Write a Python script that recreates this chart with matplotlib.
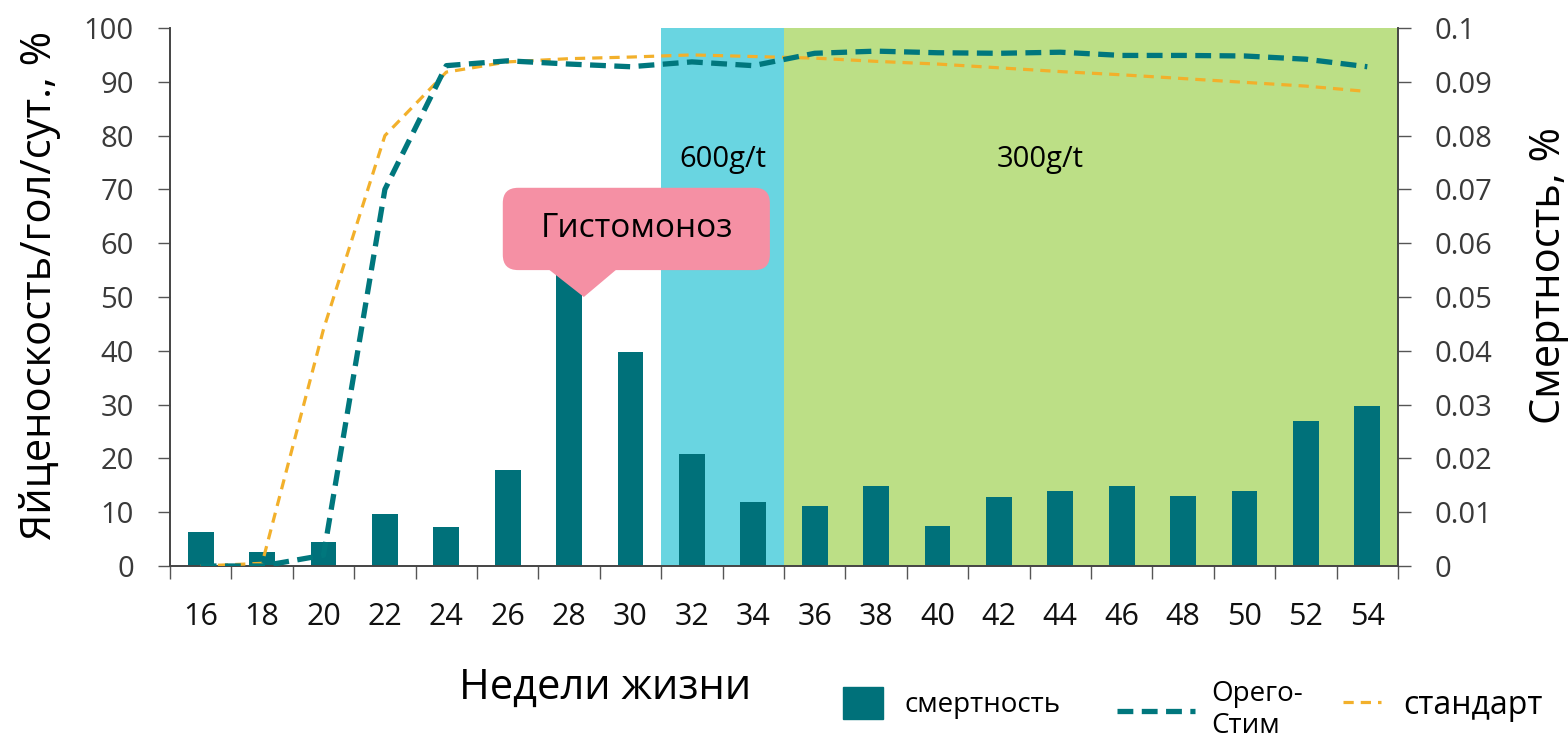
import numpy as np
import matplotlib
matplotlib.use("Agg")
import matplotlib.pyplot as plt
from matplotlib.patches import FancyBboxPatch, Polygon, Patch
from matplotlib.lines import Line2D

plt.rcParams["font.family"] = ["Open Sans", "DejaVu Sans"]

# --- data ---
weeks = [16, 18, 20, 22, 24, 26, 28, 30, 32, 34, 36, 38, 40, 42, 44, 46, 48, 50, 52, 54]
mortality = [0.0063, 0.0026, 0.0044, 0.0097, 0.0072, 0.0179, 0.055, 0.0397, 0.0209, 0.0119,
             0.0111, 0.0148, 0.0075, 0.0128, 0.0139, 0.0148, 0.0131, 0.0139, 0.0270, 0.0298]
orego = [0, 0, 2, 70, 93, 93.9, 93.3, 92.8, 93.7, 93.0,
         95.3, 95.7, 95.4, 95.3, 95.5, 94.9, 94.9, 94.8, 94.2, 92.8]
standard = [0, 0.5, 44, 80, 91.8, 93.7, 94.3, 94.6, 95.0, 94.7,
            94.4, 93.8, 93.3, 92.6, 91.9, 91.3, 90.6, 89.9, 89.2, 88.2]
dose_600 = (32, 34)     # weeks with 600 g/t
dose_300 = (36, 54)     # weeks with 300 g/t

TEAL = "#00717A"
LINE_TEAL = "#00777D"
YELLOW = "#F2B02B"
CYAN = "#69D5E1"
GREEN = "#BCDF86"
PINK = "#F590A4"
TICK_COL = "#3A3A3A"

x = np.arange(len(weeks))
idx = {w: i for i, w in enumerate(weeks)}

fig = plt.figure(figsize=(15.68, 7.42), dpi=100)
ax = fig.add_axes([170 / 1568, 1 - 566 / 742, 1228 / 1568, 538 / 742])   # bars, right scale
ax2 = ax.twinx()                                                       # lines, left scale

# dosage bands
ax.axvspan(idx[dose_600[0]] - 0.5, idx[dose_600[1]] + 0.5, color=CYAN, lw=0, zorder=0)
ax.axvspan(idx[dose_300[0]] - 0.5, idx[dose_300[1]] + 0.5, color=GREEN, lw=0, zorder=0)

ax.bar(x, mortality, width=0.42, color=TEAL, zorder=2, label="смертность")
ax.set_ylim(0, 0.1)
ax.set_xlim(-0.5, len(weeks) - 0.5)
ax.yaxis.tick_right()
ax.set_yticks(np.arange(0, 0.101, 0.01))
ax.set_yticklabels(["0"] + [f"{v:.2f}".rstrip("0") for v in np.arange(0.01, 0.101, 0.01)])

ax2.plot(x, standard, color=YELLOW, lw=2.3, ls=(0, (3.2, 2.2)), zorder=3)
ax2.plot(x, orego, color=LINE_TEAL, lw=3.8, ls=(0, (3.0, 1.6)), zorder=4)
ax2.set_ylim(0, 100)
ax2.yaxis.tick_left()
ax2.set_yticks(range(0, 101, 10))

# x ticks: labels at centers, tick marks at boundaries
ax.set_xticks(x)
ax.set_xticklabels([str(w) for w in weeks])
ax.set_xticks(np.arange(-0.5, len(weeks)), minor=True)
ax.tick_params(axis="x", which="major", length=0, pad=26, labelsize=22, labelcolor="#111111")
ax.tick_params(axis="x", which="minor", length=9, width=1, color="#555555", direction="out")
ax.tick_params(axis="y", length=9, width=1, color="#555555", pad=17, labelsize=21, labelcolor=TICK_COL)
ax2.tick_params(axis="y", length=9, width=1, color="#555555", pad=17, labelsize=21, labelcolor=TICK_COL)

for a in (ax, ax2):
    a.spines["top"].set_visible(False)
    for s in ("left", "right", "bottom"):
        a.spines[s].set_color("#444444")
        a.spines[s].set_linewidth(1.2)

# band labels
ax2.text((idx[dose_600[0]] + idx[dose_600[1]]) / 2, 75.5, "600g/t", ha="center", va="center", fontsize=21)
ax2.text(13.68, 75.5, "300g/t", ha="center", va="center", fontsize=21)

# callout
box = FancyBboxPatch((4.92, 55), 4.35, 15.3, boxstyle="round,pad=0,rounding_size=0.25",
                     mutation_aspect=11.4, fc=PINK, ec="none", zorder=6)
ax2.add_patch(box)
ax2.add_patch(Polygon([(5.66, 55.2), (6.78, 55.2), (6.24, 50.0)], closed=True,
                      fc=PINK, ec="none", zorder=6))
ax2.text(7.1, 62.7, "Гистомоноз", ha="center", va="center", fontsize=24, zorder=7)

# axis titles
fig.text(40 / 1568, 1 - 285 / 742, "Яйценоскость/гол/сут., %", rotation=90,
         ha="center", va="center", fontsize=30)
fig.text(1549 / 1568, 1 - 275 / 742, "Смертность, %", rotation=90,
         ha="center", va="center", fontsize=30)
fig.text(605 / 1568, 1 - 688 / 742, "Недели жизни", ha="center", va="center", fontsize=30)

# legend, three separate pieces
fig.legend(handles=[Patch(color=TEAL, label="смертность")], loc="center left",
           bbox_to_anchor=(843 / 1568, 1 - 703 / 742), frameon=False, fontsize=20,
           handlelength=1.45, handleheight=1.45, handletextpad=0.75, borderpad=0, borderaxespad=0)
fig.legend(handles=[Line2D([], [], color=LINE_TEAL, lw=3.8, ls=(0, (3.0, 1.6)), label="Орего-\nСтим")],
           loc="center left", bbox_to_anchor=(1117 / 1568, 1 - 710 / 742), frameon=False,
           fontsize=20, handlelength=2.8, handletextpad=0.6, borderpad=0, borderaxespad=0)
fig.legend(handles=[Line2D([], [], color=YELLOW, lw=2.3, ls=(0, (3.2, 2.2)), label="стандарт")],
           loc="center left", bbox_to_anchor=(1343 / 1568, 1 - 705 / 742), frameon=False,
           fontsize=23, handlelength=1.2, handletextpad=0.7, borderpad=0, borderaxespad=0)

fig.savefig("out.png", dpi=100)
